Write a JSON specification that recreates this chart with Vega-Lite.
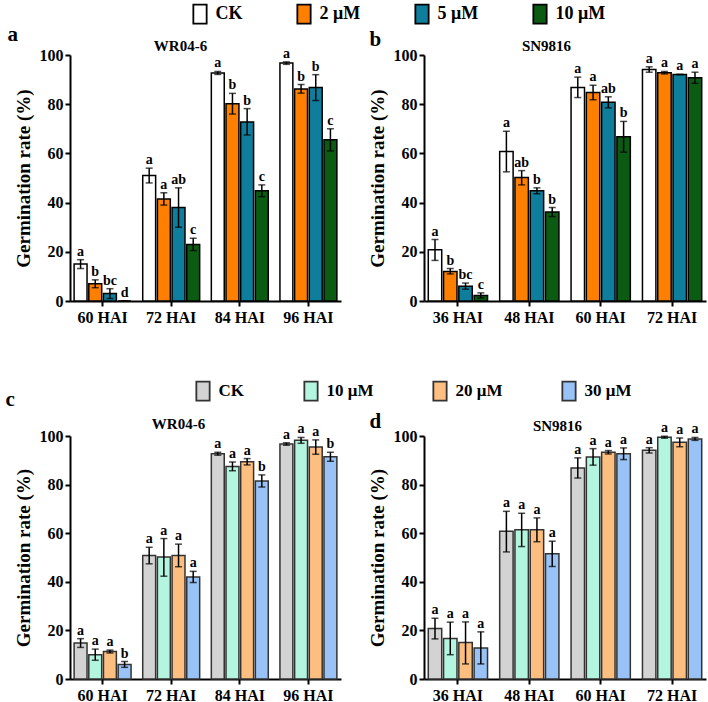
{
  "$schema": "https://vega.github.io/schema/vega-lite/v6.json",
  "padding": {"left": 5, "top": 3, "right": 5, "bottom": 5},
  "config": {
    "font": "Liberation Serif",
    "view": {"stroke": null},
    "axis": {"domainColor": "black", "domainWidth": 2, "tickColor": "black", "tickWidth": 2, "tickSize": 5, "labelFont": "Liberation Serif", "labelFontWeight": "bold", "labelFontSize": 16, "labelColor": "black", "titleFont": "Liberation Serif", "titleFontWeight": "bold", "titleFontSize": 19, "titleColor": "black", "grid": false, "labelPadding": 2},
    "axisY": {"title": "Germination rate (%)", "values": [0, 20, 40, 60, 80, 100], "titlePadding": 6}
  },
  "datasets": {
    "g": [
      {"p": "a", "t": "60 HAI", "k": "CK", "v": 15, "lo": 13.2, "hi": 16.8, "s": "a"},
      {"p": "a", "t": "60 HAI", "k": "2 μM", "v": 7, "lo": 5.4, "hi": 8.6, "s": "b"},
      {"p": "a", "t": "60 HAI", "k": "5 μM", "v": 3, "lo": 1, "hi": 5, "s": "bc"},
      {"p": "a", "t": "60 HAI", "k": "10 μM", "v": 0, "lo": 0, "hi": 0, "s": "d"},
      {"p": "a", "t": "72 HAI", "k": "CK", "v": 51, "lo": 48, "hi": 54, "s": "a"},
      {"p": "a", "t": "72 HAI", "k": "2 μM", "v": 41.5, "lo": 39, "hi": 44, "s": "a"},
      {"p": "a", "t": "72 HAI", "k": "5 μM", "v": 38, "lo": 30, "hi": 46, "s": "ab"},
      {"p": "a", "t": "72 HAI", "k": "10 μM", "v": 23, "lo": 20.5, "hi": 25.5, "s": "c"},
      {"p": "a", "t": "84 HAI", "k": "CK", "v": 92.7, "lo": 92.1, "hi": 93.3, "s": "a"},
      {"p": "a", "t": "84 HAI", "k": "2 μM", "v": 80.2, "lo": 76, "hi": 84.4, "s": "b"},
      {"p": "a", "t": "84 HAI", "k": "5 μM", "v": 72.8, "lo": 67.5, "hi": 78.2, "s": "b"},
      {"p": "a", "t": "84 HAI", "k": "10 μM", "v": 44.8, "lo": 42.4, "hi": 47.2, "s": "c"},
      {"p": "a", "t": "96 HAI", "k": "CK", "v": 96.7, "lo": 96.2, "hi": 97.2, "s": "a"},
      {"p": "a", "t": "96 HAI", "k": "2 μM", "v": 86.2, "lo": 84.5, "hi": 88, "s": "b"},
      {"p": "a", "t": "96 HAI", "k": "5 μM", "v": 86.8, "lo": 81.5, "hi": 92, "s": "b"},
      {"p": "a", "t": "96 HAI", "k": "10 μM", "v": 65.5, "lo": 61, "hi": 70, "s": "c"},

      {"p": "b", "t": "36 HAI", "k": "CK", "v": 20.8, "lo": 16.5, "hi": 25, "s": "a"},
      {"p": "b", "t": "36 HAI", "k": "2 μM", "v": 12, "lo": 11, "hi": 13.2, "s": "b"},
      {"p": "b", "t": "36 HAI", "k": "5 μM", "v": 6, "lo": 4.8, "hi": 7.3, "s": "bc"},
      {"p": "b", "t": "36 HAI", "k": "10 μM", "v": 2.2, "lo": 1.2, "hi": 3.3, "s": "c"},
      {"p": "b", "t": "48 HAI", "k": "CK", "v": 60.8, "lo": 52.5, "hi": 69, "s": "a"},
      {"p": "b", "t": "48 HAI", "k": "2 μM", "v": 50.2, "lo": 47.2, "hi": 53, "s": "ab"},
      {"p": "b", "t": "48 HAI", "k": "5 μM", "v": 44.8, "lo": 43.6, "hi": 46, "s": "b"},
      {"p": "b", "t": "48 HAI", "k": "10 μM", "v": 36.2, "lo": 34.3, "hi": 38, "s": "b"},
      {"p": "b", "t": "60 HAI", "k": "CK", "v": 86.8, "lo": 82.7, "hi": 91, "s": "a"},
      {"p": "b", "t": "60 HAI", "k": "2 μM", "v": 84.8, "lo": 81.8, "hi": 87.7, "s": "a"},
      {"p": "b", "t": "60 HAI", "k": "5 μM", "v": 80.8, "lo": 78.5, "hi": 83, "s": "ab"},
      {"p": "b", "t": "60 HAI", "k": "10 μM", "v": 66.8, "lo": 60.5, "hi": 73, "s": "b"},
      {"p": "b", "t": "72 HAI", "k": "CK", "v": 94.1, "lo": 93, "hi": 95.2, "s": "a"},
      {"p": "b", "t": "72 HAI", "k": "2 μM", "v": 92.8, "lo": 92.3, "hi": 93.3, "s": "a"},
      {"p": "b", "t": "72 HAI", "k": "5 μM", "v": 92.1, "lo": 92.1, "hi": 92.1, "s": "a"},
      {"p": "b", "t": "72 HAI", "k": "10 μM", "v": 90.8, "lo": 88.5, "hi": 93, "s": "a"},

      {"p": "c", "t": "60 HAI", "k": "CK", "v": 14.8, "lo": 13, "hi": 16.6, "s": "a"},
      {"p": "c", "t": "60 HAI", "k": "10 μM", "v": 10, "lo": 7.7, "hi": 12.3, "s": "a"},
      {"p": "c", "t": "60 HAI", "k": "20 μM", "v": 11.3, "lo": 10.7, "hi": 11.9, "s": "a"},
      {"p": "c", "t": "60 HAI", "k": "30 μM", "v": 6, "lo": 4.8, "hi": 7.2, "s": "b"},
      {"p": "c", "t": "72 HAI", "k": "CK", "v": 50.8, "lo": 47.4, "hi": 54.2, "s": "a"},
      {"p": "c", "t": "72 HAI", "k": "10 μM", "v": 50.2, "lo": 42.3, "hi": 57.8, "s": "a"},
      {"p": "c", "t": "72 HAI", "k": "20 μM", "v": 50.8, "lo": 46.2, "hi": 55.5, "s": "a"},
      {"p": "c", "t": "72 HAI", "k": "30 μM", "v": 42, "lo": 39.7, "hi": 44.3, "s": "a"},
      {"p": "c", "t": "84 HAI", "k": "CK", "v": 92.7, "lo": 92.1, "hi": 93.3, "s": "a"},
      {"p": "c", "t": "84 HAI", "k": "10 μM", "v": 87.5, "lo": 85.7, "hi": 89.3, "s": "a"},
      {"p": "c", "t": "84 HAI", "k": "20 μM", "v": 89.4, "lo": 88.1, "hi": 90.7, "s": "a"},
      {"p": "c", "t": "84 HAI", "k": "30 μM", "v": 81.5, "lo": 79, "hi": 84, "s": "b"},
      {"p": "c", "t": "96 HAI", "k": "CK", "v": 96.7, "lo": 96.2, "hi": 97.2, "s": "a"},
      {"p": "c", "t": "96 HAI", "k": "10 μM", "v": 98.2, "lo": 97, "hi": 99.4, "s": "a"},
      {"p": "c", "t": "96 HAI", "k": "20 μM", "v": 95.5, "lo": 92.5, "hi": 98.4, "s": "a"},
      {"p": "c", "t": "96 HAI", "k": "30 μM", "v": 91.5, "lo": 89.6, "hi": 93.3, "s": "b"},

      {"p": "d", "t": "36 HAI", "k": "CK", "v": 20.8, "lo": 16.5, "hi": 25, "s": "a"},
      {"p": "d", "t": "36 HAI", "k": "10 μM", "v": 16.7, "lo": 10, "hi": 23.4, "s": "a"},
      {"p": "d", "t": "36 HAI", "k": "20 μM", "v": 15, "lo": 6.2, "hi": 23.5, "s": "a"},
      {"p": "d", "t": "36 HAI", "k": "30 μM", "v": 12.8, "lo": 6.2, "hi": 19.4, "s": "a"},
      {"p": "d", "t": "48 HAI", "k": "CK", "v": 60.8, "lo": 52.3, "hi": 69, "s": "a"},
      {"p": "d", "t": "48 HAI", "k": "10 μM", "v": 61.4, "lo": 54.5, "hi": 68.2, "s": "a"},
      {"p": "d", "t": "48 HAI", "k": "20 μM", "v": 61.4, "lo": 56.5, "hi": 66.3, "s": "a"},
      {"p": "d", "t": "48 HAI", "k": "30 μM", "v": 51.5, "lo": 46.3, "hi": 56.7, "s": "a"},
      {"p": "d", "t": "60 HAI", "k": "CK", "v": 86.8, "lo": 82.7, "hi": 91, "s": "a"},
      {"p": "d", "t": "60 HAI", "k": "10 μM", "v": 91.4, "lo": 88, "hi": 94.8, "s": "a"},
      {"p": "d", "t": "60 HAI", "k": "20 μM", "v": 93.3, "lo": 92.6, "hi": 94, "s": "a"},
      {"p": "d", "t": "60 HAI", "k": "30 μM", "v": 92.7, "lo": 90.3, "hi": 95.1, "s": "a"},
      {"p": "d", "t": "72 HAI", "k": "CK", "v": 94.1, "lo": 93, "hi": 95.2, "s": "a"},
      {"p": "d", "t": "72 HAI", "k": "10 μM", "v": 99.5, "lo": 99.1, "hi": 99.9, "s": "a"},
      {"p": "d", "t": "72 HAI", "k": "20 μM", "v": 97.4, "lo": 95.6, "hi": 99.2, "s": "a"},
      {"p": "d", "t": "72 HAI", "k": "30 μM", "v": 98.8, "lo": 98.2, "hi": 99.4, "s": "a"}
    ]
  },
  "columns": 2,
  "bounds": "flush",
  "spacing": {"row": 135, "column": 83},
  "resolve": {"scale": {"x": "independent", "y": "independent", "xOffset": "independent", "fill": "independent"}, "legend": {"fill": "independent"}},
  "concat": [
    {
      "width": 271, "height": 246,
      "data": {"name": "g"},
      "transform": [{"filter": "datum.p === 'a'"}],
      "layer": [
        {
          "mark": {"type": "bar", "stroke": "black", "strokeWidth": 1.5},
          "encoding": {
            "x": {"field": "t", "type": "nominal", "title": null, "scale": {"paddingInner": 0.17, "paddingOuter": 0.06}, "axis": {"orient": "bottom", "labelAngle": 0, "labelPadding": 3}},
            "xOffset": {"field": "k", "type": "nominal", "scale": {"domain": ["CK", "2 μM", "5 μM", "10 μM"], "paddingInner": 0.12, "paddingOuter": 0}},
            "y": {"field": "v", "type": "quantitative", "title": "Germination rate (%)", "scale": {"domain": [0, 100]}},
            "fill": {"field": "k", "type": "nominal", "scale": {"domain": ["CK", "2 μM", "5 μM", "10 μM"], "range": ["#ffffff", "#ff8000", "#0f7d9c", "#0b5b12"]},
              "legend": {"orient": "none", "legendX": 119.5, "legendY": -51.5, "direction": "horizontal", "title": null, "symbolType": "M-0.7,-1H0.7V1H-0.7Z", "symbolSize": 361, "symbolStrokeColor": "black", "symbolStrokeWidth": 1.8, "labelFontSize": 18, "labelFont": "Liberation Serif", "labelFontWeight": "bold", "labelColor": "black", "labelOffset": 5, "columnPadding": 51, "padding": 0}}
          }
        },
        {
          "mark": {"type": "rule", "color": "black", "strokeWidth": 1.5},
          "encoding": {
            "x": {"field": "t", "type": "nominal", "axis": null},
            "xOffset": {"field": "k", "type": "nominal", "scale": {"domain": ["CK", "2 μM", "5 μM", "10 μM"]}},
            "y": {"field": "lo", "type": "quantitative", "title": "Germination rate (%)", "scale": {"domain": [0, 100]}},
            "y2": {"field": "hi"}
          }
        },
        {
          "mark": {"type": "tick", "orient": "horizontal", "color": "black", "size": 7, "thickness": 1.5},
          "encoding": {
            "x": {"field": "t", "type": "nominal", "axis": {"orient": "top", "labels": false, "ticks": false, "domain": false, "title": "a", "titleX": -63, "titleY": -15, "titleAlign": "left", "titleBaseline": "alphabetic", "titleFontSize": 21, "titleAngle": 0}},
            "xOffset": {"field": "k", "type": "nominal", "scale": {"domain": ["CK", "2 μM", "5 μM", "10 μM"]}},
            "y": {"field": "lo", "type": "quantitative", "title": "Germination rate (%)", "scale": {"domain": [0, 100]}}
          }
        },
        {
          "mark": {"type": "tick", "orient": "horizontal", "color": "black", "size": 7, "thickness": 1.5},
          "encoding": {
            "x": {"field": "t", "type": "nominal", "axis": null},
            "xOffset": {"field": "k", "type": "nominal", "scale": {"domain": ["CK", "2 μM", "5 μM", "10 μM"]}},
            "y": {"field": "hi", "type": "quantitative", "title": "Germination rate (%)", "scale": {"domain": [0, 100]}}
          }
        },
        {
          "mark": {"type": "text", "baseline": "alphabetic", "dy": -4, "fontSize": 14, "fontWeight": "bold", "font": "Liberation Serif", "color": "black"},
          "encoding": {
            "x": {"field": "t", "type": "nominal", "axis": {"orient": "top", "labels": false, "ticks": false, "domain": false, "title": "WR04-6", "titleX": 110, "titleY": -5, "titleAlign": "center", "titleBaseline": "alphabetic", "titleFontSize": 15, "titleAngle": 0}},
            "xOffset": {"field": "k", "type": "nominal", "scale": {"domain": ["CK", "2 μM", "5 μM", "10 μM"]}},
            "y": {"field": "hi", "type": "quantitative", "title": "Germination rate (%)", "scale": {"domain": [0, 100]}},
            "text": {"field": "s"}
          }
        }
      ],
      "resolve": {"axis": {"x": "independent", "y": "shared"}}
    },
    {
      "width": 282, "height": 246,
      "data": {"name": "g"},
      "transform": [{"filter": "datum.p === 'b'"}],
      "layer": [
        {
          "mark": {"type": "bar", "stroke": "black", "strokeWidth": 1.5},
          "encoding": {
            "x": {"field": "t", "type": "nominal", "title": null, "scale": {"paddingInner": 0.17, "paddingOuter": 0.06}, "axis": {"orient": "bottom", "labelAngle": 0, "labelPadding": 3}},
            "xOffset": {"field": "k", "type": "nominal", "scale": {"domain": ["CK", "2 μM", "5 μM", "10 μM"], "paddingInner": 0.12, "paddingOuter": 0}},
            "y": {"field": "v", "type": "quantitative", "title": "Germination rate (%)", "scale": {"domain": [0, 100]}},
            "fill": {"field": "k", "type": "nominal", "scale": {"domain": ["CK", "2 μM", "5 μM", "10 μM"], "range": ["#ffffff", "#ff8000", "#0f7d9c", "#0b5b12"]}, "legend": null}
          }
        },
        {
          "mark": {"type": "rule", "color": "black", "strokeWidth": 1.5},
          "encoding": {
            "x": {"field": "t", "type": "nominal", "axis": null},
            "xOffset": {"field": "k", "type": "nominal", "scale": {"domain": ["CK", "2 μM", "5 μM", "10 μM"]}},
            "y": {"field": "lo", "type": "quantitative", "title": "Germination rate (%)", "scale": {"domain": [0, 100]}},
            "y2": {"field": "hi"}
          }
        },
        {
          "mark": {"type": "tick", "orient": "horizontal", "color": "black", "size": 7, "thickness": 1.5},
          "encoding": {
            "x": {"field": "t", "type": "nominal", "axis": {"orient": "top", "labels": false, "ticks": false, "domain": false, "title": "b", "titleX": -55, "titleY": -10, "titleAlign": "left", "titleBaseline": "alphabetic", "titleFontSize": 21, "titleAngle": 0}},
            "xOffset": {"field": "k", "type": "nominal", "scale": {"domain": ["CK", "2 μM", "5 μM", "10 μM"]}},
            "y": {"field": "lo", "type": "quantitative", "title": "Germination rate (%)", "scale": {"domain": [0, 100]}}
          }
        },
        {
          "mark": {"type": "tick", "orient": "horizontal", "color": "black", "size": 7, "thickness": 1.5},
          "encoding": {
            "x": {"field": "t", "type": "nominal", "axis": null},
            "xOffset": {"field": "k", "type": "nominal", "scale": {"domain": ["CK", "2 μM", "5 μM", "10 μM"]}},
            "y": {"field": "hi", "type": "quantitative", "title": "Germination rate (%)", "scale": {"domain": [0, 100]}}
          }
        },
        {
          "mark": {"type": "text", "baseline": "alphabetic", "dy": -4, "fontSize": 14, "fontWeight": "bold", "font": "Liberation Serif", "color": "black"},
          "encoding": {
            "x": {"field": "t", "type": "nominal", "axis": {"orient": "top", "labels": false, "ticks": false, "domain": false, "title": "SN9816", "titleX": 122, "titleY": -5, "titleAlign": "center", "titleBaseline": "alphabetic", "titleFontSize": 15, "titleAngle": 0}},
            "xOffset": {"field": "k", "type": "nominal", "scale": {"domain": ["CK", "2 μM", "5 μM", "10 μM"]}},
            "y": {"field": "hi", "type": "quantitative", "title": "Germination rate (%)", "scale": {"domain": [0, 100]}},
            "text": {"field": "s"}
          }
        }
      ],
      "resolve": {"axis": {"x": "independent", "y": "shared"}}
    },
    {
      "width": 271, "height": 243,
      "data": {"name": "g"},
      "transform": [{"filter": "datum.p === 'c'"}],
      "layer": [
        {
          "mark": {"type": "bar", "stroke": "#333333", "strokeWidth": 1.5},
          "encoding": {
            "x": {"field": "t", "type": "nominal", "title": null, "scale": {"paddingInner": 0.17, "paddingOuter": 0.06}, "axis": {"orient": "bottom", "labelAngle": 0, "labelPadding": 3}},
            "xOffset": {"field": "k", "type": "nominal", "scale": {"domain": ["CK", "10 μM", "20 μM", "30 μM"], "paddingInner": 0.12, "paddingOuter": 0}},
            "y": {"field": "v", "type": "quantitative", "title": "Germination rate (%)", "scale": {"domain": [0, 100]}},
            "fill": {"field": "k", "type": "nominal", "scale": {"domain": ["CK", "10 μM", "20 μM", "30 μM"], "range": ["#d3d3d3", "#b3f5df", "#fdbf80", "#99c3f7"]},
              "legend": {"orient": "none", "legendX": 122.5, "legendY": -55.5, "direction": "horizontal", "title": null, "symbolType": "M-0.7,-1H0.7V1H-0.7Z", "symbolSize": 361, "symbolStrokeColor": "#333333", "symbolStrokeWidth": 1.8, "labelFontSize": 17, "labelFont": "Liberation Serif", "labelFontWeight": "bold", "labelColor": "black", "labelOffset": 5, "columnPadding": 56, "padding": 0}}
          }
        },
        {
          "mark": {"type": "rule", "color": "black", "strokeWidth": 1.5},
          "encoding": {
            "x": {"field": "t", "type": "nominal", "axis": null},
            "xOffset": {"field": "k", "type": "nominal", "scale": {"domain": ["CK", "10 μM", "20 μM", "30 μM"]}},
            "y": {"field": "lo", "type": "quantitative", "title": "Germination rate (%)", "scale": {"domain": [0, 100]}},
            "y2": {"field": "hi"}
          }
        },
        {
          "mark": {"type": "tick", "orient": "horizontal", "color": "black", "size": 7, "thickness": 1.5},
          "encoding": {
            "x": {"field": "t", "type": "nominal", "axis": {"orient": "top", "labels": false, "ticks": false, "domain": false, "title": "c", "titleX": -65, "titleY": -31, "titleAlign": "left", "titleBaseline": "alphabetic", "titleFontSize": 21, "titleAngle": 0}},
            "xOffset": {"field": "k", "type": "nominal", "scale": {"domain": ["CK", "10 μM", "20 μM", "30 μM"]}},
            "y": {"field": "lo", "type": "quantitative", "title": "Germination rate (%)", "scale": {"domain": [0, 100]}}
          }
        },
        {
          "mark": {"type": "tick", "orient": "horizontal", "color": "black", "size": 7, "thickness": 1.5},
          "encoding": {
            "x": {"field": "t", "type": "nominal", "axis": null},
            "xOffset": {"field": "k", "type": "nominal", "scale": {"domain": ["CK", "10 μM", "20 μM", "30 μM"]}},
            "y": {"field": "hi", "type": "quantitative", "title": "Germination rate (%)", "scale": {"domain": [0, 100]}}
          }
        },
        {
          "mark": {"type": "text", "baseline": "alphabetic", "dy": -4, "fontSize": 14, "fontWeight": "bold", "font": "Liberation Serif", "color": "black"},
          "encoding": {
            "x": {"field": "t", "type": "nominal", "axis": {"orient": "top", "labels": false, "ticks": false, "domain": false, "title": "WR04-6", "titleX": 108, "titleY": -8, "titleAlign": "center", "titleBaseline": "alphabetic", "titleFontSize": 15, "titleAngle": 0}},
            "xOffset": {"field": "k", "type": "nominal", "scale": {"domain": ["CK", "10 μM", "20 μM", "30 μM"]}},
            "y": {"field": "hi", "type": "quantitative", "title": "Germination rate (%)", "scale": {"domain": [0, 100]}},
            "text": {"field": "s"}
          }
        }
      ],
      "resolve": {"axis": {"x": "independent", "y": "shared"}}
    },
    {
      "width": 282, "height": 243,
      "data": {"name": "g"},
      "transform": [{"filter": "datum.p === 'd'"}],
      "layer": [
        {
          "mark": {"type": "bar", "stroke": "#333333", "strokeWidth": 1.5},
          "encoding": {
            "x": {"field": "t", "type": "nominal", "title": null, "scale": {"paddingInner": 0.17, "paddingOuter": 0.06}, "axis": {"orient": "bottom", "labelAngle": 0, "labelPadding": 3}},
            "xOffset": {"field": "k", "type": "nominal", "scale": {"domain": ["CK", "10 μM", "20 μM", "30 μM"], "paddingInner": 0.12, "paddingOuter": 0}},
            "y": {"field": "v", "type": "quantitative", "title": "Germination rate (%)", "scale": {"domain": [0, 100]}},
            "fill": {"field": "k", "type": "nominal", "scale": {"domain": ["CK", "10 μM", "20 μM", "30 μM"], "range": ["#d3d3d3", "#b3f5df", "#fdbf80", "#99c3f7"]}, "legend": null}
          }
        },
        {
          "mark": {"type": "rule", "color": "black", "strokeWidth": 1.5},
          "encoding": {
            "x": {"field": "t", "type": "nominal", "axis": null},
            "xOffset": {"field": "k", "type": "nominal", "scale": {"domain": ["CK", "10 μM", "20 μM", "30 μM"]}},
            "y": {"field": "lo", "type": "quantitative", "title": "Germination rate (%)", "scale": {"domain": [0, 100]}},
            "y2": {"field": "hi"}
          }
        },
        {
          "mark": {"type": "tick", "orient": "horizontal", "color": "black", "size": 7, "thickness": 1.5},
          "encoding": {
            "x": {"field": "t", "type": "nominal", "axis": {"orient": "top", "labels": false, "ticks": false, "domain": false, "title": "d", "titleX": -55, "titleY": -9, "titleAlign": "left", "titleBaseline": "alphabetic", "titleFontSize": 21, "titleAngle": 0}},
            "xOffset": {"field": "k", "type": "nominal", "scale": {"domain": ["CK", "10 μM", "20 μM", "30 μM"]}},
            "y": {"field": "lo", "type": "quantitative", "title": "Germination rate (%)", "scale": {"domain": [0, 100]}}
          }
        },
        {
          "mark": {"type": "tick", "orient": "horizontal", "color": "black", "size": 7, "thickness": 1.5},
          "encoding": {
            "x": {"field": "t", "type": "nominal", "axis": null},
            "xOffset": {"field": "k", "type": "nominal", "scale": {"domain": ["CK", "10 μM", "20 μM", "30 μM"]}},
            "y": {"field": "hi", "type": "quantitative", "title": "Germination rate (%)", "scale": {"domain": [0, 100]}}
          }
        },
        {
          "mark": {"type": "text", "baseline": "alphabetic", "dy": -4, "fontSize": 14, "fontWeight": "bold", "font": "Liberation Serif", "color": "black"},
          "encoding": {
            "x": {"field": "t", "type": "nominal", "axis": {"orient": "top", "labels": false, "ticks": false, "domain": false, "title": "SN9816", "titleX": 133, "titleY": -6, "titleAlign": "center", "titleBaseline": "alphabetic", "titleFontSize": 15, "titleAngle": 0}},
            "xOffset": {"field": "k", "type": "nominal", "scale": {"domain": ["CK", "10 μM", "20 μM", "30 μM"]}},
            "y": {"field": "hi", "type": "quantitative", "title": "Germination rate (%)", "scale": {"domain": [0, 100]}},
            "text": {"field": "s"}
          }
        }
      ],
      "resolve": {"axis": {"x": "independent", "y": "shared"}}
    }
  ]
}
